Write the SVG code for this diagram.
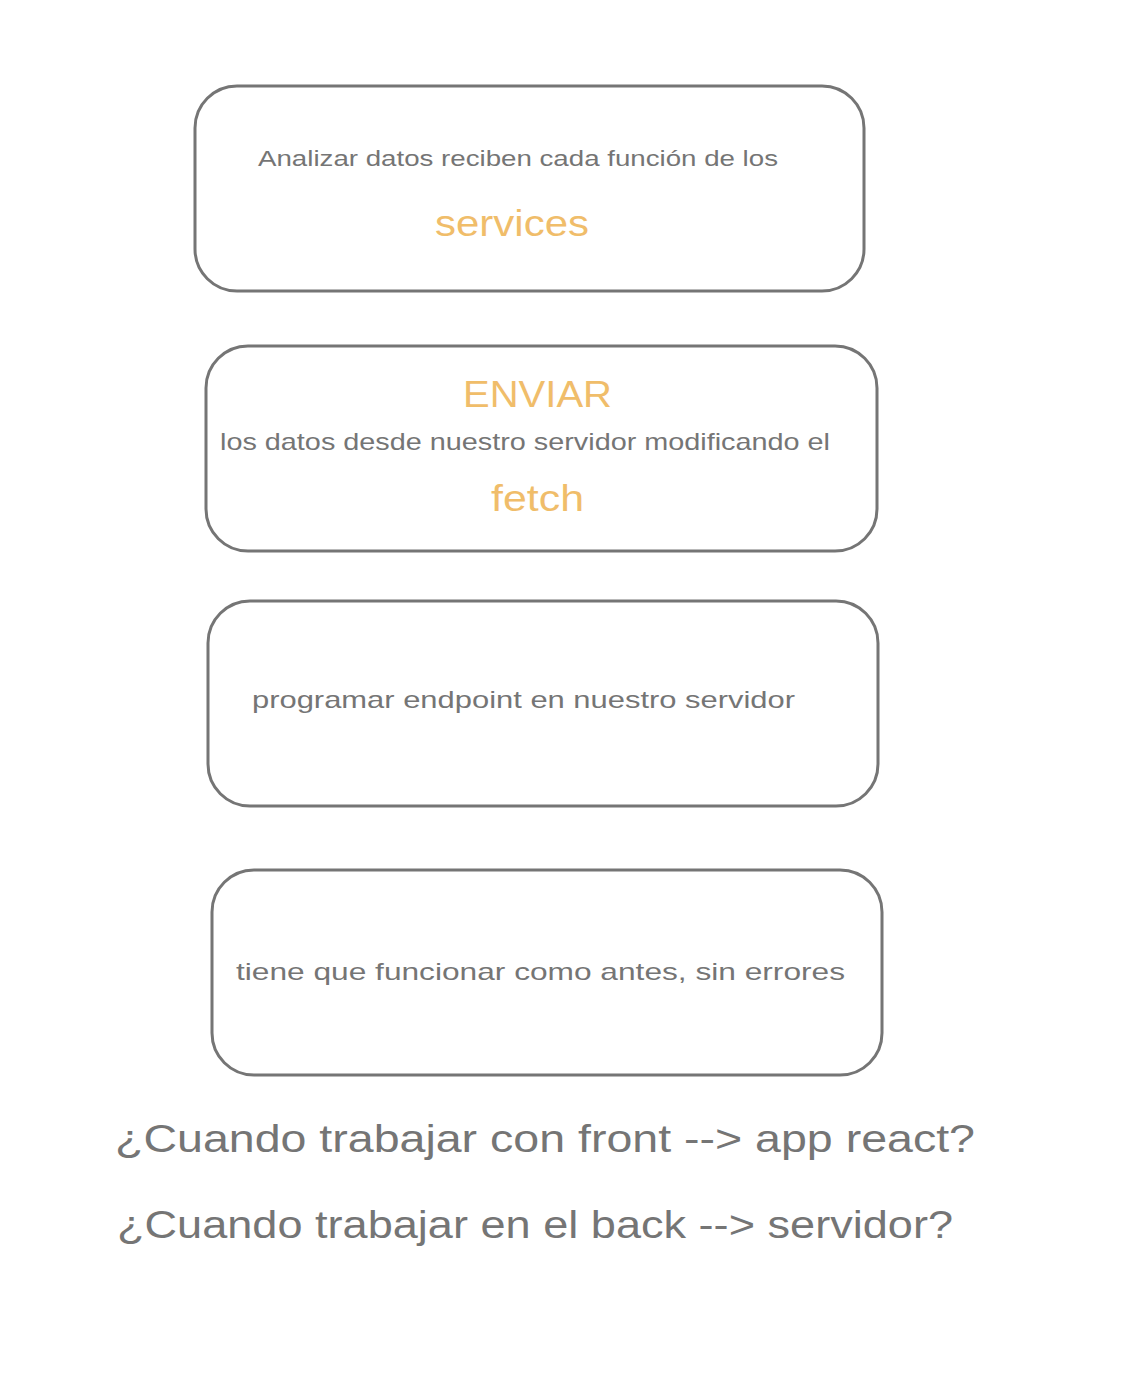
<svg xmlns="http://www.w3.org/2000/svg" width="1124" height="1378" viewBox="0 0 1124 1378">
<style>
.box{fill:#ffffff;stroke:#757575;stroke-width:3}
.t{font-family:"Liberation Sans",Arial,sans-serif;fill:#757575}
.o{font-family:"Liberation Sans",Arial,sans-serif;fill:#f0bd6a}
</style>
<rect width="1124" height="1378" fill="#ffffff"/>
<g id="node1">
<rect class="box" x="195" y="86" width="669" height="205" rx="42"/>
<text class="t" x="258" y="166" font-size="22" textLength="520" lengthAdjust="spacingAndGlyphs">Analizar datos reciben cada función de los</text>
<text class="o" x="435" y="236" font-size="36" textLength="154" lengthAdjust="spacingAndGlyphs">services</text>
</g>
<g id="node2">
<rect class="box" x="206" y="346" width="671" height="205" rx="42"/>
<text class="o" x="463" y="407" font-size="36" textLength="149" lengthAdjust="spacingAndGlyphs">ENVIAR</text>
<text class="t" x="220" y="450" font-size="24" textLength="610" lengthAdjust="spacingAndGlyphs">los datos desde nuestro servidor modificando el</text>
<text class="o" x="491" y="511" font-size="36" textLength="93" lengthAdjust="spacingAndGlyphs">fetch</text>
</g>
<g id="node3">
<rect class="box" x="208" y="601" width="670" height="205" rx="42"/>
<text class="t" x="252" y="708" font-size="24" textLength="543" lengthAdjust="spacingAndGlyphs">programar endpoint en nuestro servidor</text>
</g>
<g id="node4">
<rect class="box" x="212" y="870" width="670" height="205" rx="42"/>
<text class="t" x="236" y="980" font-size="24" textLength="609" lengthAdjust="spacingAndGlyphs">tiene que funcionar como antes, sin errores</text>
</g>
<g id="connectors"/>
<g id="notes">
<text class="t" x="115" y="1152" font-size="38" textLength="860" lengthAdjust="spacingAndGlyphs">¿Cuando trabajar con front --&gt; app react?</text>
<text class="t" x="117" y="1238" font-size="38" textLength="836" lengthAdjust="spacingAndGlyphs">¿Cuando trabajar en el back --&gt; servidor?</text>
</g>
</svg>
